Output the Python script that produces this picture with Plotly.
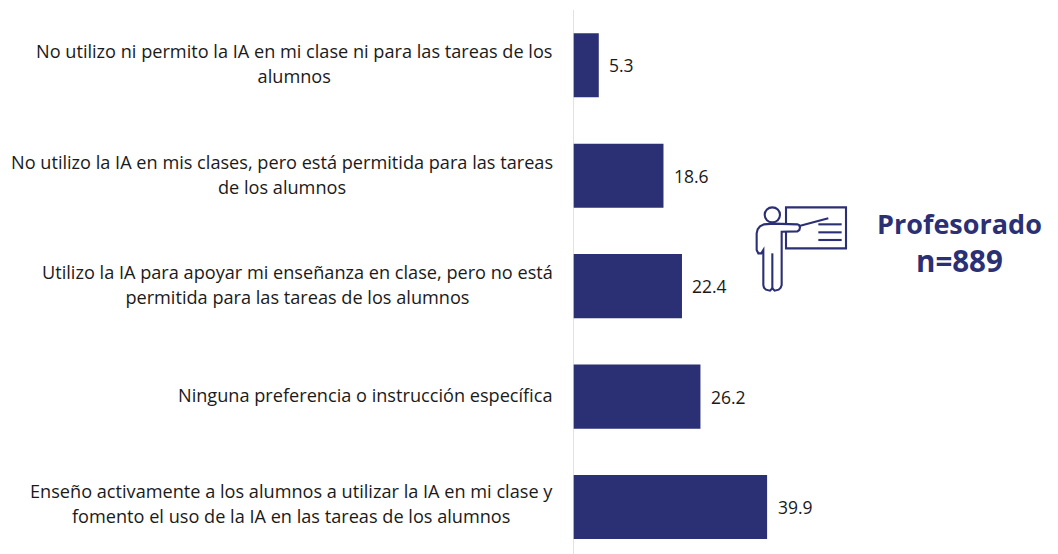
import plotly.graph_objects as go

categories = [
    "No utilizo ni permito la IA en mi clase ni para las tareas de los<br>alumnos",
    "No utilizo la IA en mis clases, pero está permitida para las tareas<br>de los alumnos",
    "Utilizo la IA para apoyar mi enseñanza en clase, pero no está<br>permitida para las tareas de los alumnos",
    "Ninguna preferencia o instrucción específica",
    "Enseño activamente a los alumnos a utilizar la IA en mi clase y<br>fomento el uso de la IA en las tareas de los alumnos",
]
values = [5.3, 18.6, 22.4, 26.2, 39.9]
value_labels = ["5.3", "18.6", "22.4", "26.2", "39.9"]
label_yshifts = [2, 1.5, 1.5, 2, 4]
badge_title = "Profesorado"
badge_n = "n=889"

OFF = 8  # page margin around the figure
W, H = 1058 - OFF, 554 - OFF
NAVY = "#2B2F73"
FONT = "Open Sans"
ML, MT = 573 - OFF, 10 - OFF

fig = go.Figure(go.Bar(
    x=values, y=list(range(len(values))), orientation="h", width=0.58,
    marker=dict(color=NAVY, line=dict(width=0)),
    hoverinfo="skip",
))

annotations = []
for i, c in enumerate(categories):
    lines = c.split("<br>")
    txt = "<br>".join(f'<span style="font-size:18.15px">{l}</span>' for l in lines)
    annotations.append(dict(
        x=0, y=i, xref="x", yref="y", xanchor="right", yanchor="middle",
        xshift=-18, yshift=label_yshifts[i], text=txt, showarrow=False, align="center",
        font=dict(family=FONT, size=19.6, color="#1a1a1a"),
    ))
    annotations.append(dict(
        x=values[i], y=i, xref="x", yref="y", xanchor="left", yanchor="middle",
        xshift=8.5, yshift=0, text=value_labels[i], showarrow=False,
        font=dict(family=FONT, size=17.5, color="#1a1a1a"),
    ))

def px(x): return (x - 573) / (W - ML)
def py(y): return 1 - (y - 10) / (H - MT)
def pt(x, y): return f"{px(x):.5f} {py(y):.5f}"
def zx(v): return 740 + v / 3
def zy(v): return 190 + v / 3
def path(points, close=False):
    s = "M" + " L".join(pt(zx(a), zy(b)) for a, b in points)
    return s + (" Z" if close else "")

icon_line = dict(color=NAVY, width=2.1)
shapes = [
    dict(type="rect", xref="paper", yref="paper", x0=px(zx(138)), x1=px(zx(318)),
         y0=py(zy(175)), y1=py(zy(52)), line=icon_line),
    dict(type="circle", xref="paper", yref="paper", x0=px(zx(74)), x1=px(zx(120)),
         y0=py(zy(97)), y1=py(zy(52)), line=icon_line, fillcolor="white"),
]
for yy in (103, 127, 150):
    shapes.append(dict(type="path", xref="paper", yref="paper",
                       path=path([(235, yy), (305, yy)]), line=icon_line))
shapes.append(dict(type="path", xref="paper", yref="paper",
                   path=path([(178, 108), (265, 85)]), line=icon_line))
body = [(172, 103), (100, 101), (72, 103), (60, 109), (53, 118), (50, 130), (50, 180), (55, 190),
        (64, 190), (70, 180), (70, 285), (72, 293), (78, 299), (90, 302), (97, 295), (104, 302),
        (116, 299), (122, 293), (125, 285), (125, 125), (172, 124), (178, 120), (180, 112), (177, 105)]
shapes.append(dict(type="path", xref="paper", yref="paper",
                   path=path(body, True), line=icon_line, fillcolor="white"))
shapes.append(dict(type="path", xref="paper", yref="paper",
                   path=path([(97, 190), (97, 295)]), line=icon_line))

annotations.append(dict(
    x=px(959), y=py(243), xref="paper", yref="paper", xanchor="center", yanchor="middle",
    text=f'<b><span style="font-size:27px">{badge_title}</span><br><span style="font-size:29.5px">{badge_n}</span></b>',
    showarrow=False, align="center",
    font=dict(family=FONT, size=29, color=NAVY),
))

fig.update_layout(
    width=W, height=H, autosize=False,
    margin=dict(l=ML, r=0, t=MT, b=0, pad=0),
    paper_bgcolor="white", plot_bgcolor="white", showlegend=False,
    xaxis=dict(range=[0, 99.7], visible=False, fixedrange=True),
    yaxis=dict(range=[4.425, -0.5], showticklabels=False, showgrid=False, zeroline=False,
               ticks="", showline=False, fixedrange=True),
    shapes=shapes + [dict(type="line", xref="x", yref="paper", x0=0, x1=0, y0=0, y1=1,
                          line=dict(color="#D9D9D9", width=1.5))],
    annotations=annotations,
    font=dict(family=FONT),
)
fig.write_html("out.html", config=dict(displayModeBar=False))
